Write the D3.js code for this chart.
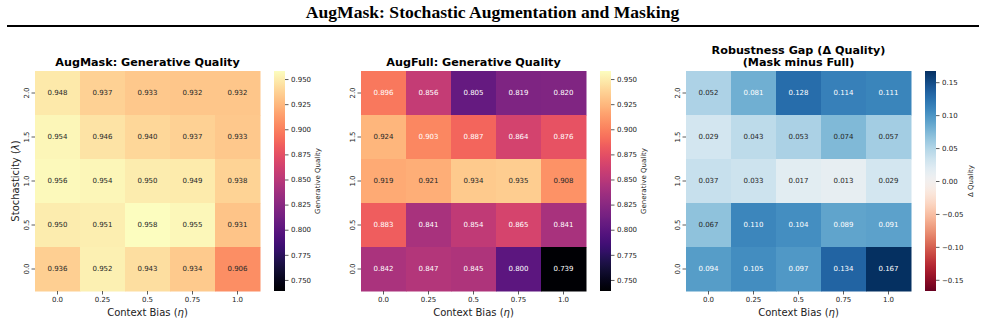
<!DOCTYPE html>
<html lang="en">
<head>
<meta charset="utf-8">
<title>AugMask: Stochastic Augmentation and Masking</title>
<script src="https://cdn.jsdelivr.net/npm/d3@7"></script>
<style>
  body { margin: 0; background: #fff; }
  svg text { font-family: "DejaVu Sans", sans-serif; fill: #222; }
</style>
</head>
<body>
<script>
// rows are stochasticity (top to bottom), columns are context bias
var lambdas = ["2.0", "1.5", "1.0", "0.5", "0.0"];
var etas = ["0.0", "0.25", "0.5", "0.75", "1.0"];

var augMask = [
  [0.948, 0.937, 0.933, 0.932, 0.932],
  [0.954, 0.946, 0.940, 0.937, 0.933],
  [0.956, 0.954, 0.950, 0.949, 0.938],
  [0.950, 0.951, 0.958, 0.955, 0.931],
  [0.936, 0.952, 0.943, 0.934, 0.906]
];
var augFull = [
  [0.896, 0.856, 0.805, 0.819, 0.820],
  [0.924, 0.903, 0.887, 0.864, 0.876],
  [0.919, 0.921, 0.934, 0.935, 0.908],
  [0.883, 0.841, 0.854, 0.865, 0.841],
  [0.842, 0.847, 0.845, 0.800, 0.739]
];
var gap = [
  [0.052, 0.081, 0.128, 0.114, 0.111],
  [0.029, 0.043, 0.053, 0.074, 0.057],
  [0.037, 0.033, 0.017, 0.013, 0.029],
  [0.067, 0.110, 0.104, 0.089, 0.091],
  [0.094, 0.105, 0.097, 0.134, 0.167]
];
var qualityTicks = [0.750, 0.775, 0.800, 0.825, 0.850, 0.875, 0.900, 0.925, 0.950];
var gapTicks = [-0.15, -0.10, -0.05, 0.00, 0.05, 0.10, 0.15];

var w = 985, h = 324;
var cw = 225, ch = 220, mapTop = 71;

var svg = d3.select("body").append("svg")
  .attr("width", w).attr("height", h);

// figure title + rule
svg.append("text")
  .attr("x", w / 2).attr("y", 18)
  .attr("text-anchor", "middle")
  .style("font-family", "'Liberation Serif', 'Times New Roman', serif")
  .style("font-weight", "bold").style("font-size", "17.6px").style("fill", "#000")
  .text("AugMask: Stochastic Augmentation and Masking");
svg.append("line")
  .attr("x1", 7).attr("x2", 979).attr("y1", 26).attr("y2", 26)
  .attr("stroke", "#000").attr("stroke-width", 2);

// shared range for the two quality maps
var qAll = d3.merge(augMask.concat(augFull));
var qMin = d3.min(qAll), qMax = d3.max(qAll);
var gMax = d3.max(d3.merge(gap), function(v) { return Math.abs(v); });

var panels = [
  { left: 35, data: augMask, title: ["AugMask: Generative Quality"], ylabel: true,
    color: d3.scaleSequential(d3.interpolateMagma).domain([qMin, qMax]),
    ticks: qualityTicks, fmt: d3.format(".3f"), cbLabel: "Generative Quality", cbOff: 43.5 },
  { left: 361, data: augFull, title: ["AugFull: Generative Quality"], ylabel: false,
    color: d3.scaleSequential(d3.interpolateMagma).domain([qMin, qMax]),
    ticks: qualityTicks, fmt: d3.format(".3f"), cbLabel: "Generative Quality", cbOff: 43.5 },
  { left: 686, data: gap, title: ["Robustness Gap (\u0394 Quality)", "(Mask minus Full)"], ylabel: false,
    color: d3.scaleSequential(d3.interpolateRdBu).domain([-gMax, gMax]),
    ticks: gapTicks, fmt: d3.format(".2f"), cbLabel: "\u0394 Quality", cbOff: 45.5 }
];

// seaborn picks annotation colour by background luminance
function lum(c) {
  var rgb = d3.rgb(c);
  var f = function(v) { v /= 255; return v <= 0.03928 ? v / 12.92 : Math.pow((v + 0.055) / 1.055, 2.4); };
  return 0.2126 * f(rgb.r) + 0.7152 * f(rgb.g) + 0.0722 * f(rgb.b);
}

panels.forEach(function(p, pi) {
  var g = svg.append("g").attr("transform", "translate(" + p.left + "," + mapTop + ")");
  var x = d3.scaleBand().domain(etas).range([0, cw]);
  var y = d3.scaleBand().domain(lambdas).range([0, ch]);

  var cells = [];
  p.data.forEach(function(row, i) {
    row.forEach(function(v, j) { cells.push({ lam: lambdas[i], eta: etas[j], v: v }); });
  });

  g.selectAll("rect.cell").data(cells).enter().append("rect")
    .attr("class", "cell")
    .attr("x", function(d) { return x(d.eta); })
    .attr("y", function(d) { return y(d.lam); })
    .attr("width", x.bandwidth() + 0.5)
    .attr("height", y.bandwidth() + 0.5)
    .attr("fill", function(d) { return p.color(d.v); });

  g.selectAll("text.annot").data(cells).enter().append("text")
    .attr("class", "annot")
    .attr("x", function(d) { return x(d.eta) + x.bandwidth() / 2; })
    .attr("y", function(d) { return y(d.lam) + y.bandwidth() / 2; })
    .attr("dy", "0.35em")
    .attr("text-anchor", "middle")
    .style("font-size", "7px")
    .style("fill", function(d) { return lum(p.color(d.v)) > 0.408 ? "#262626" : "#fff"; })
    .text(function(d) { return d3.format(".3f")(d.v); });

  // x axis
  var xa = g.append("g").attr("transform", "translate(0," + ch + ")")
    .call(d3.axisBottom(x).tickSize(3.5).tickPadding(3));
  xa.select(".domain").remove();
  xa.selectAll("line").attr("stroke", "#333").attr("stroke-width", 0.8);
  xa.selectAll("text").style("font-size", "7px").style("fill", "#222");

  // y axis, labels turned vertical
  var ya = g.append("g").call(d3.axisLeft(y).tickSize(3.5).tickPadding(2));
  ya.select(".domain").remove();
  ya.selectAll("line").attr("stroke", "#333").attr("stroke-width", 0.8);
  ya.selectAll("text")
    .attr("x", null).attr("dy", null)
    .attr("text-anchor", "middle")
    .attr("transform", "translate(-5.8,0) rotate(-90)")
    .style("font-size", "7px").style("fill", "#222");

  var xl = g.append("text")
    .attr("x", cw / 2).attr("y", 244.5)
    .attr("text-anchor", "middle")
    .style("font-size", "10px");
  xl.append("tspan").text("Context Bias (");
  xl.append("tspan").style("font-style", "italic").text("\u03b7");
  xl.append("tspan").text(")");

  if (p.ylabel) {
    var yl = g.append("text")
      .attr("transform", "translate(" + (-20) + "," + (ch / 2) + ") rotate(-90)")
      .attr("dy", "0.35em")
      .attr("text-anchor", "middle")
      .style("font-size", "10px");
    yl.append("tspan").text("Stochasticity (");
    yl.append("tspan").style("font-style", "italic").text("\u03bb");
    yl.append("tspan").text(")");
  }

  p.title.forEach(function(t, k) {
    g.append("text")
      .attr("x", cw / 2)
      .attr("y", -5 - (p.title.length - 1 - k) * 12.5)
      .attr("text-anchor", "middle")
      .style("font-size", "11.2px").style("font-weight", "bold").style("fill", "#000")
      .text(t);
  });

  // colorbar
  var cbx = 239, cbw = 11;
  var dom = p.color.domain();
  var gradId = "grad" + pi;
  var grad = svg.append("defs").append("linearGradient")
    .attr("id", gradId).attr("x1", 0).attr("x2", 0).attr("y1", 1).attr("y2", 0);
  d3.range(0, 1.0001, 0.02).forEach(function(t) {
    grad.append("stop").attr("offset", t)
      .attr("stop-color", p.color(dom[0] + t * (dom[1] - dom[0])));
  });
  var cb = g.append("g").attr("transform", "translate(" + cbx + ",0)");
  cb.append("rect").attr("width", cbw).attr("height", ch).attr("fill", "url(#" + gradId + ")");
  var cy = d3.scaleLinear().domain(dom).range([ch, 0]);
  var ca = cb.append("g").attr("transform", "translate(" + cbw + ",0)")
    .call(d3.axisRight(cy).tickValues(p.ticks).tickFormat(p.fmt).tickSize(3.5).tickPadding(2.5));
  ca.select(".domain").remove();
  ca.selectAll("line").attr("stroke", "#333").attr("stroke-width", 0.8);
  ca.selectAll("text").style("font-size", "7px").style("fill", "#222");

  cb.append("text")
    .attr("transform", "translate(" + p.cbOff + "," + (ch / 2) + ") rotate(-90)")
    .attr("dy", "0.35em")
    .attr("text-anchor", "middle")
    .style("font-size", "7px")
    .text(p.cbLabel);
});
</script>
</body>
</html>
